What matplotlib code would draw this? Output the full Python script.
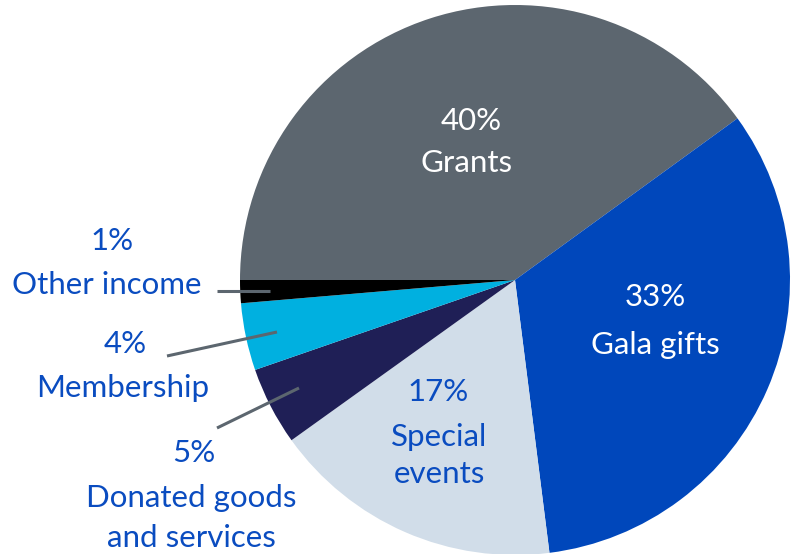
import matplotlib
matplotlib.use("Agg")
import matplotlib.pyplot as plt

# Data
categories = ["Grants", "Gala gifts", "Special events", "Donated goods and services", "Membership", "Other income"]
shares = [40.0, 33.0, 17.1, 4.6, 3.95, 1.35]
pct_labels = ["40%", "33%", "17%", "5%", "4%", "1%"]
colors = ["#5c666f", "#0047bb", "#d1dde9", "#1f1f56", "#00b0e0", "#000000"]

W, H = 796, 554
fig = plt.figure(figsize=(W / 100, H / 100), dpi=100)
ax = fig.add_axes([0, 0, 1, 1])
ax.axis("off")

cx, cy, r = 515, 280, 275
ax.pie(shares, colors=colors, startangle=180, counterclock=False,
       center=(cx, H - cy), radius=r,
       wedgeprops=dict(linewidth=0, antialiased=True))
ax.set_xlim(0, W)
ax.set_ylim(0, H)
ax.set_aspect("equal")

FONT = "Lato"
BLUE = "#0a4cc0"
FS = 22.5


def txt(x, y, s, color=BLUE):
    ax.text(x, H - y, s, ha="center", va="center", fontsize=FS,
            family=FONT, color=color)


# Inside labels
txt(471, 121, pct_labels[0], "white")
txt(467, 163, "Grants", "white")
txt(655, 297, pct_labels[1], "white")
txt(655, 345, "Gala gifts", "white")
txt(438, 392, pct_labels[2])
txt(439, 437, "Special")
txt(439, 474, "events")

# Outside labels
txt(112, 241, pct_labels[5])
txt(107, 285, "Other income")
txt(125, 344, pct_labels[4])
txt(123, 388, "Membership")
txt(194, 453, pct_labels[3])
txt(191, 498, "Donated goods")
txt(191, 538, "and services")

# Leader lines
LC = "#5c666f"
for (x0, y0), (x1, y1) in [((217, 290.5), (270, 290.5)),
                           ((167, 356), (277, 332)),
                           ((217, 428), (299, 388))]:
    ax.plot([x0, x1], [H - y0, H - y1], color=LC, lw=2.2, solid_capstyle="butt")

fig.savefig("out.png", dpi=100)
